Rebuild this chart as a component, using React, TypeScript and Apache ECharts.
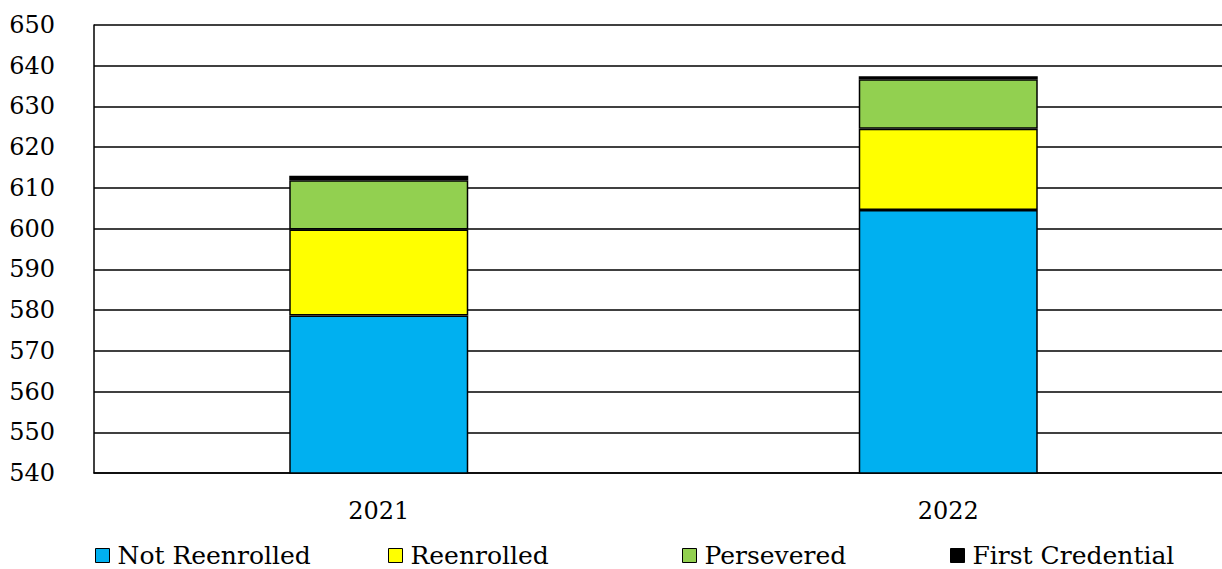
import React, { useEffect, useRef } from "react";
import * as echarts from "echarts";

const categories = ["2021", "2022"];
const notReenrolled = [578.7, 604.6];
const reenrolled = [21.1, 19.9];
const persevered = [12.1, 12.2];
const firstCredential = [1.1, 0.7];
const seriesNames = ["Not Reenrolled", "Reenrolled", "Persevered", "First Credential"];
const seriesColors = ["#00B0F0", "#FFFF00", "#92D050", "#000000"];
const yMin = 540;
const yMax = 650;
const yInterval = 10;

const FONT = "DejaVu Serif";

export default function App() {
  const ref = useRef<HTMLDivElement>(null);
  useEffect(() => {
    document.body.style.margin = "0";
    const chart = echarts.init(ref.current!, undefined, { renderer: "svg" });
    const values = [notReenrolled, reenrolled, persevered, firstCredential];
    const legendLefts = [90, 383, 677, 945];
    chart.setOption({
      animation: false,
      grid: { left: 94, top: 25, height: 448, width: 1139, outerBoundsMode: "none" },
      xAxis: {
        type: "category",
        data: categories,
        axisLine: { lineStyle: { color: "#000", width: 1.5 } },
        axisTick: { show: false },
        axisLabel: { color: "#000", fontSize: 24, fontFamily: FONT, margin: 26 },
      },
      yAxis: {
        type: "value",
        min: yMin,
        max: yMax,
        interval: yInterval,
        axisLine: { show: true, lineStyle: { color: "#000", width: 1.5 } },
        axisTick: { show: false },
        splitLine: { lineStyle: { color: "#000", width: 1.5 } },
        axisLabel: { color: "#000", fontSize: 24, fontFamily: FONT, margin: 39 },
      },
      legend: seriesNames.map((n, i) => ({
        data: [n],
        left: legendLefts[i],
        top: 538,
        itemWidth: 14,
        itemHeight: 14,
        icon: "rect",
        itemStyle: { borderColor: "#000", borderWidth: 1 },
        textStyle: { color: "#000", fontSize: 25, fontFamily: FONT, padding: [0, 0, 0, 3] },
      })),
      series: seriesNames.map((n, i) => ({
        name: n,
        type: "bar",
        stack: "total",
        barWidth: 179,
        data: values[i],
        itemStyle: { color: seriesColors[i], borderColor: "#000", borderWidth: 1.5 },
      })),
    });
    return () => chart.dispose();
  }, []);
  return <div ref={ref} style={{ width: 1222, height: 569 }} />;
}
